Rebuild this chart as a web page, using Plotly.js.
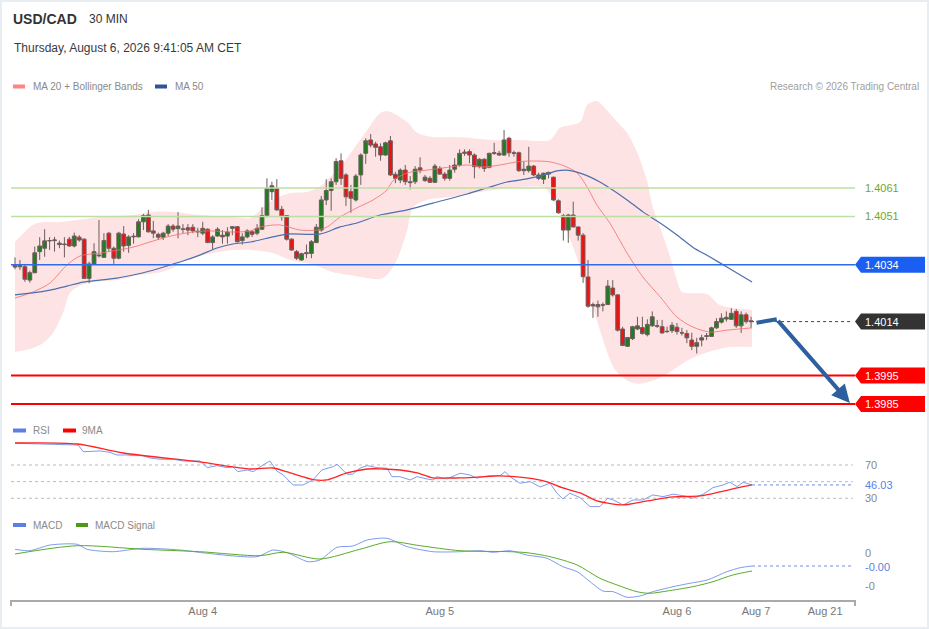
<!DOCTYPE html>
<html><head><meta charset="utf-8">
<script src="https://cdn.plot.ly/plotly-3.0.1.min.js"></script>
<style>
html,body{margin:0;padding:0;background:#fff;}
#chart{width:929px;height:629px;position:absolute;left:0;top:0;}
#frame{position:absolute;left:0;top:0;width:929px;height:629px;box-sizing:border-box;border:2px solid #e8edf1;pointer-events:none;}
</style></head><body>
<div id="chart"></div><div id="frame"></div>
<script>
// ---------- DATA ----------
const candleOpen = [1.40337,1.40333,1.40333,1.40286,1.40312,1.40386,1.40398,1.40424,1.40425,1.40416,1.40413,1.40430,1.40406,1.40437,1.40430,1.40292,1.40343,1.40374,1.40366,1.40451,1.40398,1.40363,1.40448,1.40408,1.40438,1.40438,1.40491,1.40515,1.40459,1.40447,1.40437,1.40451,1.40476,1.40467,1.40466,1.40470,1.40472,1.40458,1.40451,1.40465,1.40418,1.40441,1.40444,1.40441,1.40468,1.40474,1.40425,1.40438,1.40456,1.40451,1.40465,1.40513,1.40597,1.40609,1.40535,1.40513,1.40430,1.40386,1.40357,1.40379,1.40380,1.40418,1.40462,1.40568,1.40601,1.40632,1.40706,1.40656,1.40597,1.40568,1.40656,1.40732,1.40779,1.40765,1.40755,1.40726,1.40776,1.40658,1.40638,1.40673,1.40632,1.40632,1.40681,1.40636,1.40644,1.40630,1.40679,1.40659,1.40644,1.40676,1.40691,1.40732,1.40738,1.40726,1.40685,1.40711,1.40683,1.40732,1.40732,1.40726,1.40785,1.40734,1.40734,1.40671,1.40671,1.40687,1.40656,1.40641,1.40659,1.40648,1.40565,1.40512,1.40462,1.40515,1.40473,1.40444,1.40297,1.40200,1.40192,1.40199,1.40200,1.40258,1.40234,1.40114,1.40053,1.40080,1.40114,1.40119,1.40094,1.40125,1.40125,1.40122,1.40106,1.40108,1.40120,1.40101,1.40098,1.40075,1.40053,1.40075,1.40088,1.40088,1.40118,1.40138,1.40149,1.40148,1.40176,1.40125,1.40164,1.40143];
const candleHigh = [1.40366,1.40357,1.40343,1.40319,1.40404,1.40437,1.40465,1.40437,1.40438,1.40425,1.40437,1.40438,1.40453,1.40444,1.40433,1.40351,1.40416,1.40497,1.40451,1.40455,1.40404,1.40456,1.40476,1.40444,1.40451,1.40500,1.40519,1.40533,1.40494,1.40453,1.40456,1.40483,1.40483,1.40525,1.40483,1.40483,1.40483,1.40470,1.40491,1.40468,1.40444,1.40472,1.40462,1.40472,1.40476,1.40476,1.40451,1.40465,1.40462,1.40483,1.40542,1.40644,1.40632,1.40641,1.40547,1.40515,1.40433,1.40392,1.40382,1.40411,1.40427,1.40483,1.40582,1.40641,1.40644,1.40715,1.40732,1.40662,1.40621,1.40659,1.40732,1.40785,1.40800,1.40773,1.40767,1.40773,1.40793,1.40667,1.40679,1.40691,1.40652,1.40687,1.40718,1.40656,1.40652,1.40695,1.40687,1.40667,1.40691,1.40715,1.40746,1.40746,1.40746,1.40732,1.40715,1.40715,1.40734,1.40769,1.40741,1.40814,1.40790,1.40741,1.40738,1.40703,1.40755,1.40691,1.40664,1.40664,1.40667,1.40650,1.40570,1.40519,1.40519,1.40562,1.40474,1.40451,1.40357,1.40207,1.40214,1.40207,1.40286,1.40286,1.40237,1.40122,1.40086,1.40125,1.40157,1.40157,1.40148,1.40176,1.40146,1.40146,1.40122,1.40138,1.40135,1.40118,1.40110,1.40101,1.40083,1.40094,1.40100,1.40122,1.40152,1.40169,1.40176,1.40187,1.40184,1.40176,1.40172,1.40157];
const candleLow = [1.40324,1.40322,1.40280,1.40277,1.40310,1.40357,1.40368,1.40392,1.40386,1.40398,1.40366,1.40404,1.40401,1.40421,1.40290,1.40275,1.40339,1.40365,1.40365,1.40386,1.40343,1.40359,1.40386,1.40382,1.40414,1.40437,1.40462,1.40453,1.40433,1.40427,1.40427,1.40441,1.40456,1.40433,1.40451,1.40444,1.40451,1.40437,1.40444,1.40416,1.40394,1.40438,1.40414,1.40414,1.40444,1.40418,1.40411,1.40433,1.40438,1.40444,1.40462,1.40507,1.40568,1.40530,1.40495,1.40425,1.40389,1.40357,1.40354,1.40363,1.40363,1.40416,1.40456,1.40550,1.40530,1.40621,1.40621,1.40547,1.40523,1.40562,1.40621,1.40695,1.40753,1.40720,1.40706,1.40723,1.40652,1.40627,1.40627,1.40621,1.40605,1.40624,1.40662,1.40632,1.40629,1.40629,1.40656,1.40636,1.40636,1.40664,1.40685,1.40723,1.40697,1.40644,1.40679,1.40667,1.40679,1.40726,1.40723,1.40723,1.40720,1.40720,1.40667,1.40656,1.40664,1.40652,1.40638,1.40624,1.40644,1.40565,1.40519,1.40425,1.40417,1.40472,1.40425,1.40276,1.40189,1.40153,1.40157,1.40176,1.40199,1.40228,1.40105,1.40054,1.40051,1.40075,1.40110,1.40094,1.40088,1.40122,1.40118,1.40098,1.40100,1.40100,1.40094,1.40091,1.40064,1.40040,1.40028,1.40053,1.40075,1.40086,1.40114,1.40133,1.40140,1.40146,1.40118,1.40100,1.40133,1.40119];
const candleClose = [1.40332,1.40337,1.40289,1.40312,1.40382,1.40406,1.40424,1.40425,1.40427,1.40411,1.40411,1.40406,1.40441,1.40427,1.40292,1.40343,1.40386,1.40372,1.40425,1.40398,1.40363,1.40451,1.40406,1.40438,1.40440,1.40491,1.40513,1.40456,1.40451,1.40437,1.40451,1.40476,1.40465,1.40476,1.40465,1.40462,1.40459,1.40456,1.40468,1.40418,1.40438,1.40465,1.40438,1.40455,1.40474,1.40421,1.40438,1.40459,1.40447,1.40468,1.40513,1.40609,1.40618,1.40533,1.40509,1.40430,1.40392,1.40363,1.40379,1.40382,1.40421,1.40472,1.40568,1.40601,1.40632,1.40703,1.40644,1.40579,1.40574,1.40652,1.40726,1.40776,1.40761,1.40753,1.40726,1.40769,1.40656,1.40644,1.40673,1.40632,1.40629,1.40676,1.40673,1.40648,1.40630,1.40687,1.40659,1.40644,1.40673,1.40691,1.40732,1.40736,1.40726,1.40685,1.40711,1.40679,1.40732,1.40734,1.40726,1.40779,1.40734,1.40732,1.40671,1.40676,1.40687,1.40656,1.40644,1.40662,1.40665,1.40568,1.40523,1.40462,1.40515,1.40473,1.40444,1.40298,1.40194,1.40195,1.40200,1.40198,1.40265,1.40234,1.40110,1.40056,1.40084,1.40122,1.40125,1.40098,1.40130,1.40157,1.40124,1.40100,1.40105,1.40127,1.40105,1.40100,1.40083,1.40053,1.40066,1.40083,1.40090,1.40118,1.40140,1.40152,1.40155,1.40169,1.40125,1.40164,1.40140,1.40140];

const bbUpIdx = [0,3.6,5.7,9.1,12.6,17.2,23.9,27.9,32,37.4,44.1,47.6,49.6,52.2,55.7,59.1,61.7,63.2,65.8,68.4,71.3,73.9,75.3,76.5,79.4,81.4,84.6,88.1,92.1,96.2,102.2,108.3,110.3,114.4,115.8,117.8,119.8,121.9,123.9,125.9,127.9,129.1,132,134,135,140.1,142.7,149.2];
const bbUpVal = [1.40420,1.40480,1.40490,1.40490,1.40497,1.40508,1.40515,1.40526,1.40526,1.40515,1.40508,1.40504,1.40533,1.40568,1.40592,1.40596,1.40614,1.40638,1.40684,1.40744,1.40814,1.40874,1.40881,1.40874,1.40842,1.40804,1.40789,1.40789,1.40786,1.40779,1.40779,1.40779,1.40821,1.40842,1.40902,1.40916,1.40884,1.40842,1.40804,1.40737,1.40638,1.40543,1.40402,1.40286,1.40244,1.40237,1.40198,1.40181];
const bbLoIdx = [0,3.6,5.7,7.7,9.7,11.1,12.6,15.8,20.6,25.3,29.4,32,33.8,37.4,44.1,47.6,52.2,55.7,59.1,61.7,64.4,67.8,71.3,73.9,75.3,77.3,79.4,80.6,83.4,88.1,94.1,100.2,107.3,108.9,110.3,113,116.4,118.4,121.5,124.5,126.5,129.6,132.6,135.6,138.7,141.7,144.7,149.2];
const bbLoVal = [1.40033,1.40047,1.40065,1.40100,1.40170,1.40241,1.40262,1.40279,1.40286,1.40304,1.40314,1.40329,1.40350,1.40371,1.40392,1.40392,1.40381,1.40357,1.40346,1.40332,1.40314,1.40304,1.40293,1.40290,1.40304,1.40357,1.40462,1.40543,1.40568,1.40578,1.40596,1.40610,1.40610,1.40568,1.40515,1.40402,1.40227,1.40110,1.39970,1.39928,1.39921,1.39935,1.39963,1.39998,1.40023,1.40040,1.40051,1.40051];
const ma20Idx = [0,3.6,7.1,10.5,13.2,17.2,23.9,27.3,30.8,34.8,38.9,44.1,47.6,49.6,53.6,57.7,61.1,63.2,65.8,69.2,72.5,75.3,76.5,79.4,83.4,88.1,91.5,94.7,98.2,101.6,104.9,108.3,111.3,113.8,115.8,117.8,120.4,123.9,127.1,130.6,134,137.2,140.7,144.1,149.2];
const ma20Val = [1.40223,1.40244,1.40276,1.40339,1.40371,1.40381,1.40402,1.40420,1.40438,1.40452,1.40459,1.40455,1.40459,1.40473,1.40480,1.40462,1.40462,1.40473,1.40508,1.40540,1.40568,1.40603,1.40635,1.40663,1.40673,1.40684,1.40691,1.40684,1.40691,1.40702,1.40705,1.40702,1.40687,1.40663,1.40614,1.40550,1.40487,1.40381,1.40297,1.40227,1.40156,1.40121,1.40103,1.40110,1.40118];
const ma50Idx = [0,3.6,7.1,10.5,13.8,17.2,20.6,23.9,27.3,30.8,34,37.4,40.9,44.1,47.6,52.2,55.1,61.7,65.8,69.2,73.9,79.4,84.6,91.5,95.5,99.6,103.6,107.7,109.7,111.7,115,118.4,123.9,127.1,130.6,134,137.2,140.7,144.1,149.2];
const ma50Val = [1.40234,1.40241,1.40251,1.40265,1.40279,1.40286,1.40293,1.40304,1.40318,1.40336,1.40353,1.40374,1.40399,1.40413,1.40420,1.40438,1.40448,1.40448,1.40473,1.40487,1.40515,1.40533,1.40557,1.40589,1.40610,1.40631,1.40642,1.40659,1.40670,1.40673,1.40659,1.40631,1.40568,1.40526,1.40487,1.40445,1.40402,1.40367,1.40332,1.40279];

const rsiIdx = [0,12.8,13.8,17.2,19.2,20.6,22.7,23.9,25.9,27.3,29.4,32,34,37.4,38.1,38.9,40.9,42.9,44.1,45.1,47,48.2,50.2,51.6,53,54.3,56.3,58.3,60.3,62.1,64.4,65.2,67.2,68.4,69.8,71.3,73.3,75.3,76.3,77.9,80,81.4,83.4,84.6,85.4,87.4,90.1,92.1,93.5,94.7,96.2,98.2,99.2,100.2,102.2,104.3,106.3,108.3,109.7,110.9,112.3,114.4,116.4,118.4,120,121.1,123.1,125.1,127.1,129.1,131.2,133.2,135.2,137.2,139.3,141.3,143.3,144.7,146.2,147.4,149.2];
const rsiVal = [96.1,94,86,86.8,85.3,82,82,81.2,81.2,78.4,76.9,76.9,74.8,74.8,72,66.8,69.2,66.8,68,62,64,62,70,74.8,62.8,58,46,46,52,64,68,70.9,58.9,58.9,66.1,69.2,66.8,66.1,56,56,52,56,53.2,52,56,53.2,60.1,58,54.1,56,57.2,57.2,62,56,48.1,50,43.6,48.1,36.1,29.2,36.1,30.8,20,20,30.1,28,22,28,28,34,32,34.9,33.2,30.1,34.9,42.8,46,49.3,44,49.3,46.03];
const rsiMaIdx = [0,12.6,21.9,37.4,47.6,52.2,55.1,60.7,63.2,67.2,71.3,74.5,77.9,81.4,84.6,87.4,90.1,94.1,98.2,103.6,107.7,110.9,114.4,117.8,119.8,123.1,128,133.2,138.7,142.7,146.2,149.2];
const rsiMaVal = [96.4,95.2,84.4,73.6,65.2,66.4,61.6,52,52,60.4,65.2,65.2,64,60.4,54.4,54.4,54.4,55.6,56.8,54.4,49.6,42.4,36.4,26.8,24.4,22,26.8,31.6,32.8,37.6,42.4,46];

const macdIdx = [0,3,7.1,12.6,14.6,19.8,25.9,33.4,38.9,49,52.2,55.1,59.3,61.7,65.2,68.4,71.3,75.3,79.4,84.6,90.1,94.1,96.8,100.2,103.6,107.7,110.9,113.8,116.4,119,121.1,123.9,126.5,129.1,133.2,136.6,140.1,144.1,146.8,149.2];
const macdVal = [0.000077,0.000063,0.00012,0.000127,0.000077,0.000053,0.000087,0.00007,0.000037,0.000003,0.00007,0.000043,-0.000047,-0.00003,0.000097,0.00011,0.00017,0.000187,0.000103,0.000053,0.000053,0.000063,0.000047,0.000063,0.00002,-0.000013,-0.000097,-0.000147,-0.000247,-0.00034,-0.000347,-0.000403,-0.00039,-0.000347,-0.000297,-0.000263,-0.00023,-0.000147,-0.000107,-0.00009];
const sigIdx = [0,12.6,25.9,37.4,49.6,54.3,61.7,69.8,75.9,82,90.1,100.2,103.6,108.3,113.8,118.4,121.9,125.9,128.5,132,137.2,141.3,145.3,149.2];
const sigVal = [0.00003,0.000113,0.000077,0.000053,0.000013,0.000047,-0.00002,0.000077,0.000153,0.000113,0.000063,0.000053,0.000043,0.000003,-0.00008,-0.000213,-0.00028,-0.000347,-0.000363,-0.00034,-0.000297,-0.000247,-0.00018,-0.00014];

const levelsGreen = [1.4061, 1.4051];
const levelBlue = 1.4034;
const levelLast = 1.4014;
const levelsRed = [1.3995, 1.3985];
const rsiLevels = [70, 50, 30];
const rsiLabelLevels = [70, 30];
const rsiLast = 46.03;
const macdTickVals = [0, -0.00029];
const macdTickText = ['0', '-0'];
const macdLast = -0.00009;
const macdLastText = '-0.00';
const forecastIdx = [150.1, 154.2, 169];
const forecastVal = [1.40136, 1.40148, 1.39854];
const tickIdx = [38, 86, 134, 150, 164];
const tickLabels = ['Aug 4', 'Aug 5', 'Aug 6', 'Aug 7', 'Aug 21'];

// ---------- GEOMETRY ----------
const W = 929, H = 629, ML = 11, MR = 74, MT = 95, MB = 29;
const PW = W - ML - MR, PH = H - MT - MB;
const px = x => (x - ML) / PW;
const py = y => (H - MB - y) / PH;
const xRange = [-0.81, 170.04];
const priceRange = [1.398114, 1.409372];
const candleIdx = candleOpen.map((_, i) => i);
const lastIdx = candleIdx[candleIdx.length - 1];
const FONT = 'Liberation Sans, Arial, sans-serif';

const traces = [
  {x: bbUpIdx, y: bbUpVal, type: 'scatter', mode: 'lines', line: {color: 'rgba(0,0,0,0)', width: 1, shape: 'spline', smoothing: 0.8}, hoverinfo: 'skip', xaxis: 'x', yaxis: 'y'},
  {x: bbLoIdx, y: bbLoVal, type: 'scatter', mode: 'lines', fill: 'tonexty', fillcolor: '#fde3e3', line: {color: 'rgba(0,0,0,0)', width: 1, shape: 'spline', smoothing: 0.8}, hoverinfo: 'skip', xaxis: 'x', yaxis: 'y'},
  {x: candleIdx, open: candleOpen, high: candleHigh, low: candleLow, close: candleClose, type: 'candlestick', whiskerwidth: 0,
   increasing: {line: {color: '#6e5c5c', width: 1}, fillcolor: '#1e7d1e'},
   decreasing: {line: {color: '#6e5c5c', width: 1}, fillcolor: '#f01212'},
   hoverinfo: 'skip', xaxis: 'x', yaxis: 'y4'},
  {x: ma20Idx, y: ma20Val, type: 'scatter', mode: 'lines', line: {color: 'rgba(243,110,110,0.8)', width: 1, shape: 'spline', smoothing: 0.8}, hoverinfo: 'skip', xaxis: 'x', yaxis: 'y4'},
  {x: ma50Idx, y: ma50Val, type: 'scatter', mode: 'lines', line: {color: '#4d6fad', width: 1.2, shape: 'spline', smoothing: 0.8}, hoverinfo: 'skip', xaxis: 'x', yaxis: 'y4'},
  {x: forecastIdx.slice(0, 2), y: forecastVal.slice(0, 2), type: 'scatter', mode: 'lines', line: {color: '#2e5f9e', width: 4}, hoverinfo: 'skip', xaxis: 'x', yaxis: 'y4'},
  {x: rsiIdx, y: rsiVal, type: 'scatter', mode: 'lines', line: {color: '#7f9beb', width: 1}, hoverinfo: 'skip', xaxis: 'x', yaxis: 'y2'},
  {x: rsiMaIdx, y: rsiMaVal, type: 'scatter', mode: 'lines', line: {color: '#ff2424', width: 1.3, shape: 'spline', smoothing: 0.8}, hoverinfo: 'skip', xaxis: 'x', yaxis: 'y2'},
  {x: macdIdx, y: macdVal, type: 'scatter', mode: 'lines', line: {color: '#7f9beb', width: 1, shape: 'spline', smoothing: 0.7}, hoverinfo: 'skip', xaxis: 'x', yaxis: 'y3'},
  {x: sigIdx, y: sigVal, type: 'scatter', mode: 'lines', line: {color: '#5aab2a', width: 1, shape: 'spline', smoothing: 0.8}, hoverinfo: 'skip', xaxis: 'x', yaxis: 'y3'}
];

const shapes = [];
const annotations = [];
const xEnd = xRange[1] - 0.45;

function lineShape(level, color, width) {
  shapes.push({type: 'line', xref: 'paper', x0: 0, x1: 1, yref: 'y', y0: level, y1: level, line: {color: color, width: width}, layer: 'above'});
}
function tag(level, color, text) {
  shapes.push({type: 'path', xref: 'paper', yref: 'y', xsizemode: 'pixel', ysizemode: 'pixel', xanchor: 1, yanchor: level,
    path: 'M0,0 L6,8 L70,8 L70,-8 L6,-8 Z', fillcolor: color, line: {width: 0}, layer: 'above'});
  annotations.push({xref: 'paper', x: 1, xanchor: 'left', xshift: 8, yref: 'y', y: level, yanchor: 'middle', text: text, showarrow: false, font: {size: 11, color: '#ffffff'}});
}
function sideLabel(level, yref, text, color, bg, yshift) {
  const a = {xref: 'paper', x: 1, xanchor: 'left', xshift: 8, yref: yref, y: level, yanchor: 'middle', yshift: yshift || 0, text: text, showarrow: false, font: {size: 11, color: color}};
  if (bg) a.bgcolor = bg;
  annotations.push(a);
}

// price levels
levelsGreen.forEach(l => { lineShape(l, '#bcdfa3', 1.5); sideLabel(l, 'y', l.toFixed(4), '#6ea82a'); });
lineShape(levelBlue, '#2f6ce8', 1.5);
tag(levelBlue, '#1a5ff2', levelBlue.toFixed(4));
levelsRed.forEach(l => { lineShape(l, '#ff0000', 2); tag(l, '#ff0000', l.toFixed(4)); });
shapes.push({type: 'line', xref: 'x', x0: lastIdx, x1: xEnd, yref: 'y', y0: levelLast, y1: levelLast, line: {color: '#444', width: 1, dash: 'dot'}, layer: 'below'});
tag(levelLast, '#333333', levelLast.toFixed(4));

// forecast arrow
annotations.push({xref: 'x', yref: 'y', x: forecastIdx[2], y: forecastVal[2], axref: 'x', ayref: 'y', ax: forecastIdx[1], ay: forecastVal[1],
  text: '', showarrow: true, arrowhead: 2, arrowsize: 0.9, arrowwidth: 4, arrowcolor: '#2e5f9e', standoff: 0, startstandoff: 0});

// RSI grid & labels
rsiLevels.forEach(l => {
  shapes.push({type: 'line', xref: 'x', x0: xRange[0], x1: xEnd, yref: 'y2', y0: l, y1: l, line: {color: '#bbbbbb', width: 1, dash: 'dot'}, layer: 'below'});
});
rsiLabelLevels.forEach(l => sideLabel(l, 'y2', String(l), '#888888'));
shapes.push({type: 'line', xref: 'x', x0: rsiIdx[rsiIdx.length - 1], x1: xEnd, yref: 'y2', y0: rsiLast, y1: rsiLast, line: {color: '#6d8ce6', width: 1, dash: 'dot'}, layer: 'below'});
sideLabel(rsiLast, 'y2', rsiLast.toFixed(2), '#5b7fe3');

// MACD labels
sideLabel(macdTickVals[0], 'y3', macdTickText[0], '#888888', null, 4);
sideLabel(macdTickVals[1], 'y3', macdTickText[1], '#888888');
shapes.push({type: 'line', xref: 'x', x0: macdIdx[macdIdx.length - 1], x1: xEnd, yref: 'y3', y0: macdLast, y1: macdLast, line: {color: '#6d8ce6', width: 1, dash: 'dot'}, layer: 'below'});
sideLabel(macdLast, 'y3', macdLastText, '#5b7fe3', null, -1);

// x-axis end ticks
[0, 1].forEach(xp => shapes.push({type: 'line', xref: 'paper', yref: 'paper', x0: xp, x1: xp, y0: 0, y1: py(606), line: {color: '#aaaaaa', width: 2}}));

// header & legends
function txt(xpx, ypx, text, size, color, anchor) {
  annotations.push({xref: 'paper', yref: 'paper', x: px(xpx), y: py(ypx), xanchor: anchor || 'left', yanchor: 'middle', text: text, showarrow: false, font: {size: size, color: color}});
}
function swatch(x0, x1, yc, color) {
  shapes.push({type: 'rect', xref: 'paper', yref: 'paper', x0: px(x0), x1: px(x1), y0: py(yc + 2), y1: py(yc - 2), fillcolor: color, line: {width: 0}});
}
txt(11, 19, '<b>USD/CAD</b>', 14, '#333333');
txt(87, 19, '30 MIN', 12, '#333333');
txt(12, 48, 'Thursday, August 6, 2026 9:41:05 AM CET', 12, '#3a3a3a');
swatch(13, 25, 86.5, '#ff8585'); txt(31, 86.5, 'MA 20 + Bollinger Bands', 10, '#8a8a8a');
swatch(155, 167, 86.5, '#2f5597'); txt(173, 86.5, 'MA 50', 10, '#8a8a8a');
txt(921, 86.5, 'Research © 2026 Trading Central', 10, '#a0a0a0', 'right');
swatch(13, 26, 430.5, '#5b7fe3'); txt(31, 430.5, 'RSI', 10, '#8a8a8a');
swatch(63, 76, 430.5, '#ff0000'); txt(80, 430.5, '9MA', 10, '#8a8a8a');
swatch(13, 26, 525, '#5b7fe3'); txt(31, 525, 'MACD', 10, '#8a8a8a');
swatch(76, 88, 525, '#4c9a18'); txt(93, 525, 'MACD Signal', 10, '#8a8a8a');

const layout = {
  width: W, height: H,
  margin: {l: ML, r: MR, t: MT, b: MB, pad: 0},
  paper_bgcolor: '#ffffff', plot_bgcolor: '#ffffff',
  font: {family: FONT, size: 12, color: '#777'},
  showlegend: false,
  boxgap: 0.15, boxgroupgap: 0.1,
  xaxis: {domain: [0, 1], range: xRange, anchor: 'y3', showline: true, linecolor: '#aaaaaa', linewidth: 2, showgrid: false, zeroline: false,
    tickmode: 'array', tickvals: tickIdx, ticktext: tickLabels, ticks: '', tickfont: {size: 11, color: '#777777'},
    rangeslider: {visible: false}, fixedrange: true, automargin: false},
  yaxis: {domain: [py(415), 1], range: priceRange, visible: false, fixedrange: true},
  yaxis4: {overlaying: 'y', range: priceRange, visible: false, fixedrange: true},
  yaxis2: {domain: [py(512), py(438)], range: [13.54, 102.4], visible: false, fixedrange: true},
  yaxis3: {domain: [0, py(532)], range: [-0.00043, 0.00025], visible: false, fixedrange: true},
  shapes: shapes,
  annotations: annotations
};

Plotly.newPlot('chart', traces, layout, {staticPlot: true, displayModeBar: false});
</script></body></html>
